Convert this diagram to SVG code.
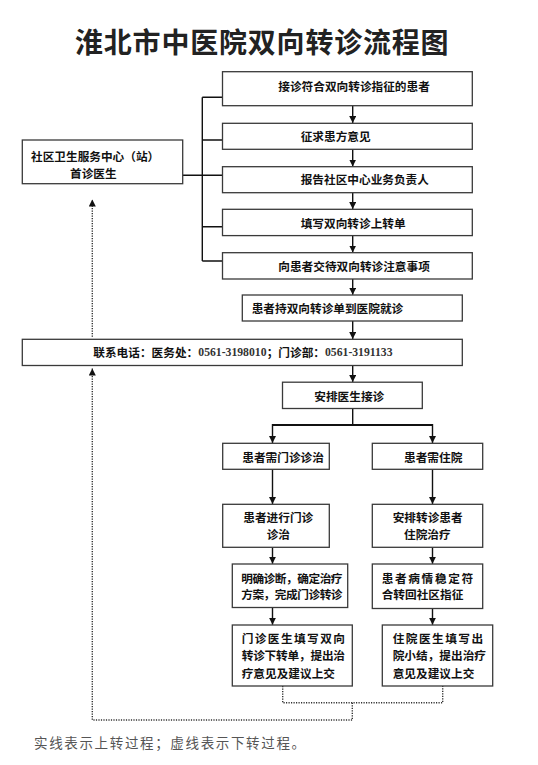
<svg xmlns="http://www.w3.org/2000/svg" width="538" height="765" viewBox="0 0 538 765">
<style>
.bx{fill:#fff;stroke:#3a3a3a;stroke-width:1.3}
.t{font-family:"Noto Sans CJK SC","Noto Sans",sans-serif;font-weight:700;font-size:11.67px;fill:#111}
.num{font-family:"Liberation Serif",serif;font-weight:700;font-size:11.7px;fill:#333}
.ln{fill:none;stroke:#111;stroke-width:1.4}
.thick{fill:none;stroke:#111;stroke-width:2.2}
.dot{fill:none;stroke:#333;stroke-width:1.4;stroke-dasharray:1.2 1.3}
</style>
<defs>
<marker id="ah" markerUnits="userSpaceOnUse" markerWidth="8" markerHeight="9" refX="7" refY="3.5" orient="auto">
<path d="M0,0 L7,3.5 L0,7 Z" fill="#111"/>
</marker>
</defs>
<rect width="538" height="765" fill="#fff"/>
<text id="title" x="75" y="53" style="font-family:'Noto Sans CJK SC',sans-serif;font-weight:700;font-size:28px;letter-spacing:0.8px;fill:#222">淮北市中医院双向转诊流程图</text>

<g id="connectors">
<path class="ln" d="M202.3,97.3 V261 M202.3,97.3 H222.5 M202.3,140 H222.5 M202.3,226.7 H222.5 M202.3,261 H222.5 M182.7,175.3 H222.5"/>
<line class="ln" x1="352.7" y1="105.7" x2="352.7" y2="123" marker-end="url(#ah)"/>
<line class="ln" x1="352.7" y1="149.3" x2="352.7" y2="166.5" marker-end="url(#ah)"/>
<line class="ln" x1="352.7" y1="192.7" x2="352.7" y2="209" marker-end="url(#ah)"/>
<line class="ln" x1="352.7" y1="235.6" x2="352.7" y2="252.5" marker-end="url(#ah)"/>
<line class="ln" x1="352.7" y1="279" x2="352.7" y2="294.8" marker-end="url(#ah)"/>
<line class="ln" x1="352.7" y1="321" x2="352.7" y2="339" marker-end="url(#ah)"/>
<line class="ln" x1="352.7" y1="365.7" x2="352.7" y2="382" marker-end="url(#ah)"/>
<line class="ln" x1="352.7" y1="408.5" x2="352.7" y2="425"/>
<line class="thick" x1="272.5" y1="425" x2="432.5" y2="425"/>
<line class="ln" x1="272.5" y1="424" x2="272.5" y2="443" marker-end="url(#ah)"/>
<line class="ln" x1="432.5" y1="424" x2="432.5" y2="443" marker-end="url(#ah)"/>
<line class="ln" x1="272.5" y1="469.3" x2="272.5" y2="504" marker-end="url(#ah)"/>
<line class="ln" x1="432.5" y1="469.3" x2="432.5" y2="504" marker-end="url(#ah)"/>
<line class="ln" x1="272.5" y1="547.3" x2="272.5" y2="563.8" marker-end="url(#ah)"/>
<line class="ln" x1="432.5" y1="547.3" x2="432.5" y2="563.8" marker-end="url(#ah)"/>
<line class="ln" x1="272.5" y1="607.5" x2="272.5" y2="624.8" marker-end="url(#ah)"/>
<line class="ln" x1="432.5" y1="608.5" x2="432.5" y2="624.8" marker-end="url(#ah)"/>
<path class="dot" d="M282.7,686 V702.7 H442.7 V686 M352.3,702.7 V720 H92.3 V368.5" marker-end="url(#ah)"/>
<line class="dot" x1="92.3" y1="336.7" x2="92.3" y2="199.5" marker-end="url(#ah)"/>
</g>

<g id="n-left"><rect class="bx" x="22.3" y="140" width="160.4" height="43.7"/>
<text class="t" x="31" y="161">社区卫生服务中心（站）</text><text class="t" x="70" y="177.6">首诊医生</text></g>
<g id="n1"><rect class="bx" x="222.5" y="71.7" width="249.8" height="34"/><text class="t" x="278.3" y="91">接诊符合双向转诊指征的患者</text></g>
<g id="n2"><rect class="bx" x="222.5" y="123.3" width="249.8" height="26"/><text class="t" x="300.7" y="141">征求患方意见</text></g>
<g id="n3"><rect class="bx" x="222.5" y="166.7" width="249.8" height="26"/><text class="t" x="300.7" y="184.3">报告社区中心业务负责人</text></g>
<g id="n4"><rect class="bx" x="222.5" y="209.3" width="249.8" height="26.3"/><text class="t" x="300.7" y="227.6">填写双向转诊上转单</text></g>
<g id="n5"><rect class="bx" x="222.5" y="252.7" width="249.8" height="26.3"/><text class="t" x="278.3" y="271">向患者交待双向转诊注意事项</text></g>
<g id="n6"><rect class="bx" x="242.3" y="295" width="220" height="26"/><text class="t" x="251.7" y="312.6">患者持双向转诊单到医院就诊</text></g>
<g id="n-contact"><rect class="bx" x="22.3" y="339.3" width="440" height="26.2"/>
<text class="t" x="93.3" y="356.6">联系电话：医务处：</text><text class="num" x="198.3" y="356.4">0561-3198010</text>
<text class="t" x="266.7" y="356.6">；门诊部：</text><text class="num" x="325" y="356.4">0561-3191133</text></g>
<g id="n7"><rect class="bx" x="282.5" y="382.2" width="139.8" height="26.3"/><text class="t" x="314.3" y="401">安排医生接诊</text></g>
<g id="n8"><rect class="bx" x="222.7" y="443.3" width="106.6" height="26"/><text class="t" x="242.3" y="461.6">患者需门诊诊治</text></g>
<g id="n9"><rect class="bx" x="372.3" y="443.3" width="110.4" height="26"/><text class="t" x="404" y="461.6">患者需住院</text></g>
<g id="n10"><rect class="bx" x="222.7" y="504.3" width="106.6" height="43"/><text class="t" x="243.3" y="522">患者进行门诊</text><text class="t" x="266.7" y="539.3">诊治</text></g>
<g id="n11"><rect class="bx" x="372.3" y="504.3" width="110.4" height="43"/><text class="t" x="392.7" y="522">安排转诊患者</text><text class="t" x="404" y="539.3">住院治疗</text></g>
<g id="n12"><rect class="bx" x="232.3" y="564" width="115.4" height="43.5"/><text class="t" x="241.2" y="582.6" style="letter-spacing:-0.45px">明确诊断，确定治疗</text><text class="t" x="241.2" y="599.3" style="letter-spacing:-0.45px">方案，完成门诊转诊</text></g>
<g id="n13"><rect class="bx" x="372.3" y="564" width="110.4" height="44.5"/><text class="t" x="381.7" y="582.6" style="letter-spacing:1.65px">患者病情稳定符</text><text class="t" x="381.7" y="599.3">合转回社区指征</text></g>
<g id="n14"><rect class="bx" x="232.3" y="625" width="120" height="61"/><text class="t" x="241.7" y="642.6" style="letter-spacing:1.42px">门诊医生填写双向</text><text class="t" x="241.7" y="660.3" style="letter-spacing:-0.2px">转诊下转单，提出治</text><text class="t" x="241.7" y="677.6">疗意见及建议上交</text></g>
<g id="n15"><rect class="bx" x="382.3" y="625" width="110.4" height="61"/><text class="t" x="392.7" y="642.6" style="letter-spacing:1.48px">住院医生填写出</text><text class="t" x="392.7" y="660.3">院小结，提出治疗</text><text class="t" x="392.7" y="677.6">意见及建议上交</text></g>

<text id="caption" x="34" y="748.4" style="font-family:'Noto Sans CJK SC',sans-serif;font-weight:400;font-size:13.5px;letter-spacing:1.65px;fill:#555">实线表示上转过程；虚线表示下转过程。</text>
</svg>
